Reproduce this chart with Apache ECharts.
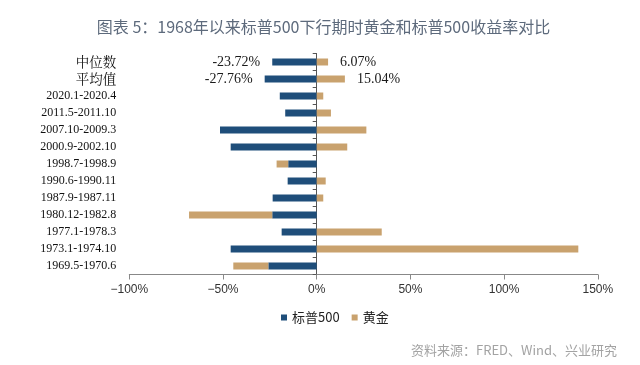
<!DOCTYPE html>
<html>
<head>
<meta charset="utf-8">
<script src="https://cdn.jsdelivr.net/npm/echarts@6/dist/echarts.min.js"></script>
<style>html,body{margin:0;padding:0;background:#fff;}#c{width:640px;height:365px;}</style>
</head>
<body>
<div id="c"></div>
<script>
// Categories listed top to bottom
const categories = ['中位数','平均值','2020.1-2020.4','2011.5-2011.10','2007.10-2009.3','2000.9-2002.10','1998.7-1998.9','1990.6-1990.11','1987.9-1987.11','1980.12-1982.8','1977.1-1978.3','1973.1-1974.10','1969.5-1970.6'];
const sp500 = [-23.72,-27.76,-19.7,-16.8,-51.6,-45.9,-15.2,-15.5,-23.5,-23.72,-18.7,-45.9,-25.8];
const gold  = [6.07,15.04,3.5,7.6,26.5,16.3,-6.2,4.8,3.5,-44.4,34.7,139.6,-18.7];
const xTicks = [-100,-50,0,50,100,150];
const seriesNames = ['标普500','黄金'];
const labeledRows = 2; // first two rows carry value labels

const blue = '#1F4E7A', tan = '#C9A26E';
const cats = categories.slice().reverse();
const spR = sp500.slice().reverse();
const gdR = gold.slice().reverse();
const n = cats.length;

function mk(vals, side) {
  return vals.map((v, i) => {
    const fromTop = n - 1 - i;
    if (fromTop < labeledRows) {
      return {value: v, label: {show: true, position: side, distance: 12,
        formatter: v.toFixed(2) + '%', fontFamily: 'Liberation Serif', fontSize: 14, color: '#1a1a1a'}};
    }
    return v;
  });
}

const chart = echarts.init(document.getElementById('c'), null, {renderer: 'canvas'});
chart.setOption({
  animation: false,
  backgroundColor: '#fff',
  grid: {left: 129.3, right: 42.2, top: 53.5, bottom: 90.5, containLabel: false, outerBoundsMode: 'none'},
  legend: {
    data: seriesNames, left: 276, top: 306, itemWidth: 6, itemHeight: 6, itemGap: 12,
    icon: 'rect',
    textStyle: {fontFamily: 'Noto Sans CJK SC', fontSize: 13, color: '#222'}
  },
  xAxis: {
    type: 'value', min: -100, max: 150, interval: 50,
    axisLine: {show: true, onZero: false, lineStyle: {color: '#888', width: 1}},
    axisTick: {show: true, length: 5, lineStyle: {color: '#888'}},
    splitLine: {show: false},
    axisLabel: {margin: 9, fontFamily: 'Liberation Sans', fontSize: 12, color: '#333',
      formatter: v => (xTicks.indexOf(v) >= 0 ? (v < 0 ? '\u2212' + Math.abs(v) : v) + '%' : '')}
  },
  yAxis: [{
    type: 'category', data: cats,
    axisLine: {show: true, onZero: true, lineStyle: {color: '#555', width: 1}},
    axisTick: {show: true, length: 4, lineStyle: {color: '#555'}},
    axisLabel: {show: false}
  }, {
    type: 'category', data: cats, position: 'left',
    axisLine: {show: false, onZero: false},
    axisTick: {show: false},
    splitLine: {show: false},
    axisLabel: {margin: 13, fontFamily: 'Liberation Serif', fontSize: 12, color: '#111',
      formatter: v => /[\u4e00-\u9fff]/.test(v) ? '{cn|' + v + '}' : v,
      rich: {cn: {fontFamily: 'Noto Serif CJK SC, Noto Sans CJK SC', fontSize: 13.5, color: '#111'}}}
  }],
  series: [
    {name: seriesNames[0], type: 'bar', stack: 'a', data: mk(spR, 'left'), barWidth: 7,
     itemStyle: {color: blue}},
    {name: seriesNames[1], type: 'bar', stack: 'a', data: mk(gdR, 'right'), barWidth: 7,
     itemStyle: {color: tan}}
  ],
  graphic: [
    {type: 'text', x: 323.5, y: 27, style: {text: '图表 5：1968年以来标普500下行期时黄金和标普500收益率对比',
      fontFamily: 'Noto Sans CJK SC', fontSize: 16, fill: '#5d6a7c', align: 'center', verticalAlign: 'middle'}},
    {type: 'text', x: 617, y: 350, style: {text: '资料来源：FRED、Wind、兴业研究',
      fontFamily: 'Noto Sans CJK SC', fontSize: 13, fill: '#a3a3a3', align: 'right', verticalAlign: 'middle'}}
  ]
});
</script>
</body>
</html>
